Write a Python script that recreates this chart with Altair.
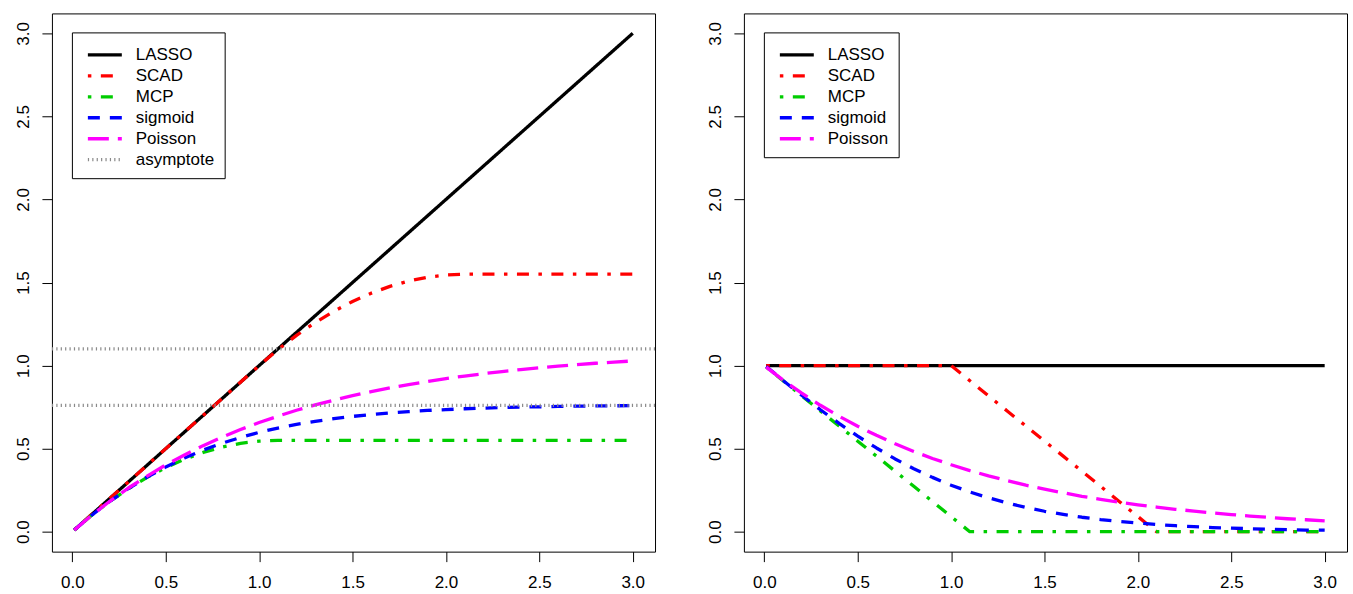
import altair as alt
import pandas as pd

# ---------------- data ----------------
x_grid = [0.01, 0.1, 0.2, 0.3, 0.4, 0.5, 0.6, 0.7, 0.8, 0.9, 1.0,
          1.1, 1.2, 1.3, 1.4, 1.5, 1.6, 1.7, 1.8, 1.9, 2.0,
          2.1, 2.2, 2.3, 2.4, 2.5, 2.6, 2.7, 2.8, 2.9, 3.0]

# left panel: penalty functions
lasso_pen = [0.01, 0.1, 0.2, 0.3, 0.4, 0.5, 0.6, 0.7, 0.8, 0.9, 1.0,
             1.1, 1.2, 1.3, 1.4, 1.5, 1.6, 1.7, 1.8, 1.9, 2.0,
             2.1, 2.2, 2.3, 2.4, 2.5, 2.6, 2.7, 2.8, 2.9, 3.0]
scad_pen = [0.01, 0.1, 0.2, 0.3, 0.4, 0.5, 0.6, 0.7, 0.8, 0.9, 1.0,
            1.096, 1.182, 1.259, 1.327, 1.386, 1.436, 1.477, 1.509, 1.532, 1.545,
            1.55, 1.55, 1.55, 1.55, 1.55, 1.55, 1.55, 1.55, 1.55, 1.55]
mcp_pen = [0.01, 0.096, 0.182, 0.259, 0.327, 0.386, 0.436, 0.477, 0.509, 0.532, 0.545,
           0.55, 0.55, 0.55, 0.55, 0.55, 0.55, 0.55, 0.55, 0.55, 0.55,
           0.55, 0.55, 0.55, 0.55, 0.55, 0.55, 0.55, 0.55, 0.55, 0.55]
sigmoid_pen = [0.01, 0.096, 0.182, 0.260, 0.329, 0.390, 0.444, 0.491, 0.532, 0.567, 0.598,
               0.624, 0.646, 0.664, 0.680, 0.694, 0.705, 0.715, 0.723, 0.730, 0.735,
               0.740, 0.744, 0.747, 0.750, 0.752, 0.754, 0.756, 0.757, 0.758, 0.759]
poisson_pen = [0.01, 0.096, 0.183, 0.263, 0.335, 0.402, 0.462, 0.518, 0.569, 0.615, 0.657,
               0.695, 0.731, 0.763, 0.792, 0.819, 0.843, 0.866, 0.886, 0.904, 0.922,
               0.937, 0.951, 0.964, 0.976, 0.987, 0.997, 1.006, 1.014, 1.021, 1.028]
asymptotes = [1.1, 0.76]

# right panel: derivatives
lasso_der = [1.0] * 31
scad_der = [1.0, 1.0, 1.0, 1.0, 1.0, 1.0, 1.0, 1.0, 1.0, 1.0, 1.0,
            0.909, 0.818, 0.727, 0.636, 0.545, 0.455, 0.364, 0.273, 0.182, 0.091,
            0.0, 0.0, 0.0, 0.0, 0.0, 0.0, 0.0, 0.0, 0.0, 0.0]
mcp_der = [0.991, 0.909, 0.818, 0.727, 0.636, 0.545, 0.455, 0.364, 0.273, 0.182, 0.091,
           0.0, 0.0, 0.0, 0.0, 0.0, 0.0, 0.0, 0.0, 0.0, 0.0,
           0.0, 0.0, 0.0, 0.0, 0.0, 0.0, 0.0, 0.0, 0.0, 0.0]
sigmoid_der = [0.995, 0.910, 0.821, 0.734, 0.652, 0.575, 0.504, 0.438, 0.379, 0.327, 0.280,
               0.239, 0.204, 0.173, 0.146, 0.123, 0.104, 0.087, 0.073, 0.062, 0.052,
               0.043, 0.036, 0.030, 0.025, 0.021, 0.018, 0.015, 0.012, 0.010, 0.009]
poisson_der = [0.991, 0.913, 0.834, 0.761, 0.695, 0.635, 0.580, 0.529, 0.483, 0.441, 0.403,
               0.368, 0.336, 0.307, 0.280, 0.256, 0.234, 0.213, 0.195, 0.178, 0.162,
               0.148, 0.135, 0.124, 0.113, 0.103, 0.094, 0.086, 0.078, 0.072, 0.065]

names = ["LASSO", "SCAD", "MCP", "sigmoid", "Poisson"]
colors = ["#000000", "#FF0000", "#00CD00", "#0000FF", "#FF00FF"]
dashes = [[1, 0], [3.5, 9.5, 12, 9.5], [3.5, 9.5, 12, 9.5], [12, 10], [21, 9]]
widths = [3.3, 3.3, 3.3, 3.3, 3.3]

tick_vals = [0, 0.5, 1.0, 1.5, 2.0, 2.5, 3.0]
FONT = "Liberation Sans"


def long_table(series):
    rows = []
    for name, vals in zip(names, series):
        for xv, yv in zip(x_grid, vals):
            rows.append({"x": xv, "y": yv, "name": name})
    return pd.DataFrame(rows)


def panel(series, with_asym):
    df = long_table(series)
    dom = list(names)
    col = list(colors)
    dsh = [list(d) for d in dashes]
    wid = list(widths)
    if with_asym:
        dom.append("asymptote")
        col.append("#8a8a8a")
        dsh.append([1.2, 3.2])
        wid.append(1)
    leg = alt.Legend(title=None, orient="none", legendX=20, legendY=19,
                     symbolType="M-0.619,0L2.619,0", symbolSize=441,
                     labelFontSize=17, labelFont=FONT, labelColor="black",
                     labelOffset=29, strokeColor="black", fillColor="white",
                     padding=10, rowPadding=0, cornerRadius=0, labelLimit=300)
    yscale = alt.Scale(domain=[-0.12, 3.12], nice=False, zero=False)
    xenc = alt.X("x:Q", scale=alt.Scale(domain=[-0.1096, 3.1196], nice=False, zero=False),
                 axis=alt.Axis(values=tick_vals, format=".1f", title=None, domain=False,
                               grid=False, tickSize=10, tickColor="black", tickWidth=1,
                               labelFontSize=17, labelFont=FONT, labelColor="black",
                               labelPadding=13, labelBaseline="top", labelFlush=False,
                               labelOverlap=False))
    yenc = alt.Y("y:Q", scale=yscale,
                 axis=alt.Axis(values=tick_vals, format=".1f", title=None, domain=False,
                               grid=False, tickSize=10, tickColor="black", tickWidth=1,
                               labelFontSize=17, labelFont=FONT, labelColor="black",
                               labelAngle=270, labelAlign="center",
                               labelBaseline="alphabetic", labelPadding=13.5,
                               labelFlush=False, labelOverlap=False))
    cenc = alt.Color("name:N", scale=alt.Scale(domain=dom, range=col), legend=leg)
    denc = alt.StrokeDash("name:N", scale=alt.Scale(domain=dom, range=dsh), legend=leg)
    wenc = alt.StrokeWidth("name:N", scale=alt.Scale(domain=dom, range=wid), legend=leg)
    layers = []
    for n in names:
        layers.append(alt.Chart(df).transform_filter(alt.datum.name == n)
                      .mark_line(strokeJoin="round")
                      .encode(x=xenc, y=yenc, color=cenc, strokeDash=denc, strokeWidth=wenc))
    if with_asym:
        adf = pd.DataFrame({"y": asymptotes, "name": ["asymptote"] * len(asymptotes)})
        layers.append(alt.Chart(adf).mark_rule().encode(
            y=alt.Y("y:Q", scale=yscale),
            color=cenc, strokeDash=denc, strokeWidth=wenc))
    return alt.layer(*layers).properties(width=604, height=539)


left = panel([lasso_pen, scad_pen, mcp_pen, sigmoid_pen, poisson_pen], True)
right = panel([lasso_der, scad_der, mcp_der, sigmoid_der, poisson_der], False)

chart = alt.hconcat(left, right, spacing=89, bounds="flush").resolve_scale(
    color="independent", strokeDash="independent", strokeWidth="independent"
).resolve_legend(
    color="independent", strokeDash="independent", strokeWidth="independent"
).properties(
    padding={"left": 14, "top": 12, "right": 5, "bottom": 5},
    background="white",
).configure_view(stroke="black", strokeWidth=1)

chart.save("out.html", embed_options={"renderer": "svg", "actions": False})
